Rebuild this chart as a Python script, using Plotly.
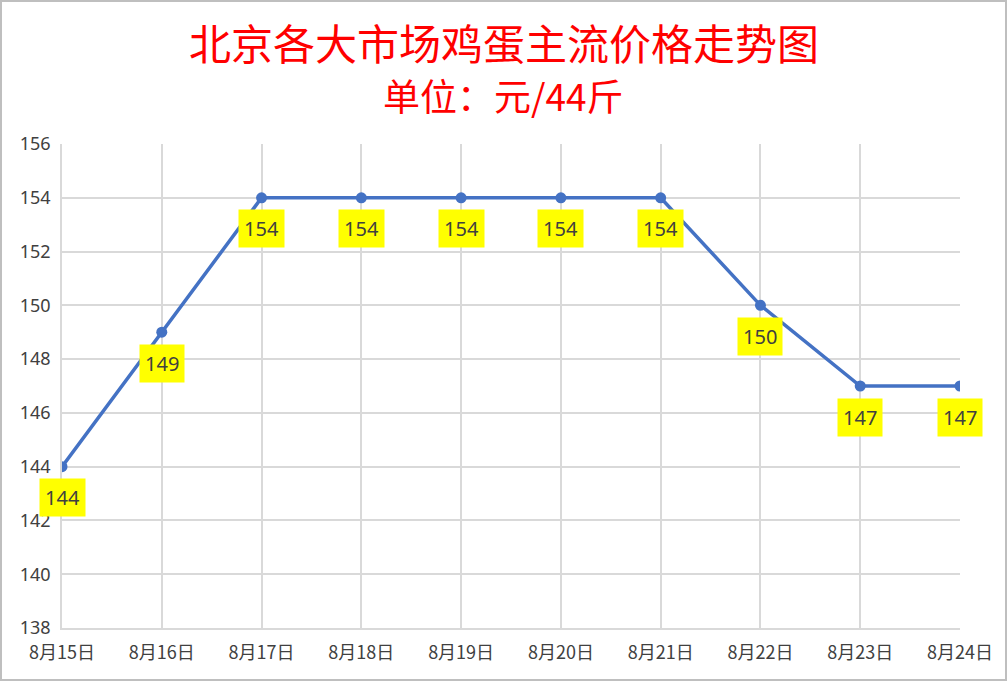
import plotly.graph_objects as go

# 数据
dates = ["8月15日", "8月16日", "8月17日", "8月18日", "8月19日",
         "8月20日", "8月21日", "8月22日", "8月23日", "8月24日"]
prices = [144, 149, 154, 154, 154, 154, 154, 150, 147, 147]
y_ticks = [138, 140, 142, 144, 146, 148, 150, 152, 154, 156]
title_lines = ["北京各大市场鸡蛋主流价格走势图", "单位：元/44斤"]

W, H = 1007, 681
ml, mr, mt, mb = 62, 47, 144, 53
pw, ph = W - ml - mr, H - mt - mb

fig = go.Figure()
fig.add_trace(go.Scatter(
    x=dates, y=prices,
    mode="lines+markers",
    line=dict(color="#4472C4", width=3.5),
    marker=dict(size=11, color="#4472C4"),
    hoverinfo="x+y",
))

# 数据标签（黄色底）
for d, p in zip(dates, prices):
    fig.add_annotation(
        x=d, y=p, text=str(p), showarrow=False,
        yshift=-31, bgcolor="#FFFF00", borderpad=5,
        font=dict(family="Noto Sans, Noto Sans CJK SC", size=20, color="#404040"),
    )

# 标题（两行）
title_y = [42, 95]
title_sz = [42, 37]
for txt, yc, sz in zip(title_lines, title_y, title_sz):
    fig.add_annotation(
        xref="paper", yref="paper", x=(W / 2 - ml) / pw, y=1 + (mt - yc) / ph,
        xanchor="center", yanchor="middle", showarrow=False, text=txt,
        font=dict(family="Noto Sans CJK SC", size=sz, color="#FF0000"),
    )

# 外框
fig.add_shape(type="rect", xref="paper", yref="paper",
              x0=-(ml - 1) / pw, x1=1 + (mr - 1) / pw,
              y0=-(mb - 1) / ph, y1=1 + (mt - 1) / ph,
              line=dict(color="#BFBFBF", width=2), layer="below")

fig.update_layout(
    width=W, height=H,
    margin=dict(l=ml, r=mr, t=mt, b=mb),
    paper_bgcolor="white", plot_bgcolor="white",
    showlegend=False,
    xaxis=dict(
        type="category", range=[0, 9],
        showgrid=True, gridcolor="#D9D9D9", gridwidth=1.5,
        showline=True, linecolor="#D9D9D9", linewidth=1.5,
        ticks="", ticklabelstandoff=8,
        tickfont=dict(family="Noto Sans CJK SC", size=18, color="#404040"),
        zeroline=False,
    ),
    yaxis=dict(
        range=[138, 156], tickvals=y_ticks,
        showgrid=True, gridcolor="#D9D9D9", gridwidth=1.5,
        showline=True, linecolor="#D9D9D9", linewidth=1.5,
        ticks="", ticklabelstandoff=6,
        tickfont=dict(family="Noto Sans, Noto Sans CJK SC", size=18, color="#404040"),
        zeroline=False,
    ),
)

fig.write_html("out.html", config={"displayModeBar": False},
               post_script="document.body.style.margin='0';")
